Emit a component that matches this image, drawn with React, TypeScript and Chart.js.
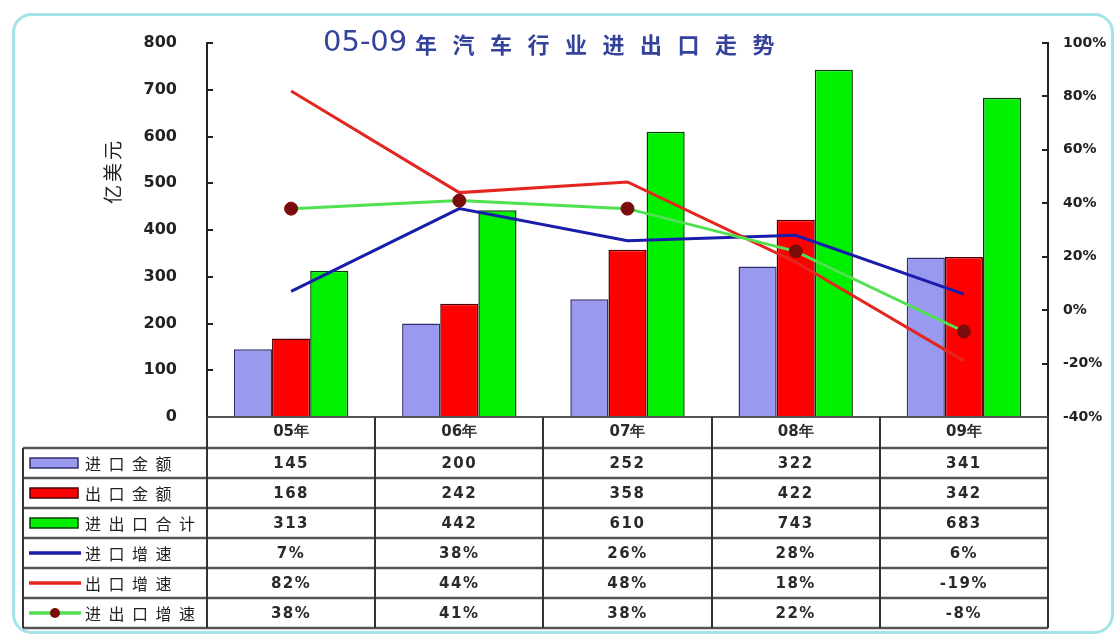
import React, { useEffect, useRef } from "react";
import { Chart, registerables } from "chart.js";

Chart.register(...registerables);

const title = "05-09年汽车行业进出口走势";
const yTitle = "亿美元";
const categories = ["05年", "06年", "07年", "08年", "09年"];

const importValue = [145, 200, 252, 322, 341];
const exportValue = [168, 242, 358, 422, 342];
const totalValue = [313, 442, 610, 743, 683];
const importGrowth = [7, 38, 26, 28, 6];
const exportGrowth = [82, 44, 48, 18, -19];
const totalGrowth = [38, 41, 38, 22, -8];

const seriesNames = ["进口金额", "出口金额", "进出口合计", "进口增速", "出口增速", "进出口增速"];

const leftMin = 0;
const leftMax = 800;
const leftStep = 100;
const rightMin = -40;
const rightMax = 100;
const rightStep = 20;

const C = {
  importBar: "#9999f0",
  importBarBorder: "#30306a",
  exportBar: "#ff0000",
  exportBarBorder: "#4a0000",
  totalBar: "#00f000",
  totalBarBorder: "#0a3a0a",
  importLine: "#1c1caa",
  exportLine: "#e3261f",
  totalLine: "#50e050",
  marker: "#7a0c0c",
};

type Row = {
  name: string;
  values: number[];
  kind: "bar" | "line" | "marker";
  color: string;
  border?: string;
  pct: boolean;
};

const rows: Row[] = [
  { name: seriesNames[0], values: importValue, kind: "bar", color: C.importBar, border: C.importBarBorder, pct: false },
  { name: seriesNames[1], values: exportValue, kind: "bar", color: C.exportBar, border: C.exportBarBorder, pct: false },
  { name: seriesNames[2], values: totalValue, kind: "bar", color: C.totalBar, border: C.totalBarBorder, pct: false },
  { name: seriesNames[3], values: importGrowth, kind: "line", color: C.importLine, pct: true },
  { name: seriesNames[4], values: exportGrowth, kind: "line", color: C.exportLine, pct: true },
  { name: seriesNames[5], values: totalGrowth, kind: "marker", color: C.totalLine, pct: true },
];

const NUM_FONT = "'DejaVu Sans', 'Liberation Sans', sans-serif";
const CJK_FONT = "'Noto Sans CJK SC', 'Noto Sans', sans-serif";

const framePlugin = {
  id: "frame",
  beforeDraw(chart: any) {
    const ctx: CanvasRenderingContext2D = chart.ctx;
    ctx.save();
    ctx.fillStyle = "#ffffff";
    ctx.fillRect(0, 0, chart.width, chart.height);
    ctx.beginPath();
    (ctx as any).roundRect(13.5, 14.5, 1099, 618, 18);
    ctx.strokeStyle = "#a4e3e6";
    ctx.lineWidth = 3;
    ctx.stroke();
    ctx.restore();
  },
};

const decorPlugin = {
  id: "decor",
  afterDraw(chart: any) {
    const ctx: CanvasRenderingContext2D = chart.ctx;
    const area = chart.chartArea;
    const xs = chart.scales.x;
    const yl = chart.scales.y;
    const yr = chart.scales.y1;
    ctx.save();

    // inward tick marks
    ctx.strokeStyle = "#222";
    ctx.lineWidth = 2;
    yl.ticks.forEach((t: any) => {
      const py = Math.round(yl.getPixelForValue(t.value));
      ctx.beginPath();
      ctx.moveTo(area.left, py);
      ctx.lineTo(area.left + 6, py);
      ctx.stroke();
    });
    yr.ticks.forEach((t: any) => {
      const py = Math.round(yr.getPixelForValue(t.value));
      ctx.beginPath();
      ctx.moveTo(area.right - 6, py);
      ctx.lineTo(area.right, py);
      ctx.stroke();
    });

    // title
    ctx.fillStyle = "#34429c";
    ctx.textBaseline = "middle";
    ctx.textAlign = "left";
    ctx.font = `29px ${NUM_FONT}`;
    ctx.fillText(title.slice(0, 5), 323, 43);
    ctx.font = `bold 22px ${CJK_FONT}`;
    (ctx as any).letterSpacing = "15.5px";
    ctx.fillText(title.slice(5), 415, 45);
    (ctx as any).letterSpacing = "0px";

    // y axis title
    ctx.save();
    ctx.translate(113, 171);
    ctx.rotate(-Math.PI / 2);
    ctx.fillStyle = "#222";
    ctx.textAlign = "center";
    ctx.font = `19px ${CJK_FONT}`;
    (ctx as any).letterSpacing = "3px";
    ctx.fillText(yTitle, 0, 0);
    (ctx as any).letterSpacing = "0px";
    ctx.restore();

    // data table
    const n = categories.length;
    const colW = (area.right - area.left) / n;
    const headerTop = area.bottom;
    const headerH = 31;
    const rowH = 30;
    const tableLeft = 23;
    const firstRowTop = headerTop + headerH;
    const bottom = firstRowTop + rowH * rows.length;

    rows.forEach((r, i) => {
      const cy = firstRowTop + rowH * i + rowH / 2;
      if (r.kind === "bar") {
        ctx.fillStyle = r.color;
        ctx.fillRect(30, cy - 5, 48, 10);
        ctx.strokeStyle = r.border || "#222";
        ctx.lineWidth = 1.5;
        ctx.strokeRect(30, cy - 5, 48, 10);
      } else {
        ctx.strokeStyle = r.color;
        ctx.lineWidth = 3.5;
        ctx.beginPath();
        ctx.moveTo(29, cy);
        ctx.lineTo(81, cy);
        ctx.stroke();
        if (r.kind === "marker") {
          ctx.fillStyle = C.marker;
          ctx.beginPath();
          ctx.arc(55, cy, 5, 0, Math.PI * 2);
          ctx.fill();
        }
      }
      ctx.fillStyle = "#222";
      ctx.textAlign = "left";
      ctx.textBaseline = "middle";
      ctx.font = `16px ${CJK_FONT}`;
      (ctx as any).letterSpacing = "7.5px";
      ctx.fillText(r.name, 85, cy + 1);
      (ctx as any).letterSpacing = "0px";
      ctx.font = `bold 15px ${NUM_FONT}`;
      ctx.textAlign = "center";
      ctx.fillStyle = "#2a2a2a";
      (ctx as any).letterSpacing = "1.5px";
      r.values.forEach((v, j) => {
        const cx = xs.getPixelForValue(j);
        ctx.fillText(r.pct ? `${v}%` : `${v}`, cx, cy + 1);
      });
      (ctx as any).letterSpacing = "0px";
    });

    // horizontal lines
    ctx.strokeStyle = "#555";
    ctx.lineWidth = 2.5;
    for (let i = 0; i <= rows.length; i++) {
      const y = firstRowTop + rowH * i;
      ctx.beginPath();
      ctx.moveTo(tableLeft, y);
      ctx.lineTo(area.right, y);
      ctx.stroke();
    }
    ctx.lineWidth = 2;
    ctx.beginPath();
    ctx.moveTo(area.left, headerTop);
    ctx.lineTo(area.right, headerTop);
    ctx.stroke();

    // vertical lines
    ctx.strokeStyle = "#333";
    ctx.beginPath();
    ctx.moveTo(tableLeft, firstRowTop);
    ctx.lineTo(tableLeft, bottom);
    ctx.stroke();
    for (let j = 0; j <= n; j++) {
      const x = Math.round(area.left + colW * j);
      ctx.beginPath();
      ctx.moveTo(x, headerTop);
      ctx.lineTo(x, bottom);
      ctx.stroke();
    }

    ctx.restore();
  },
};

export default function App() {
  const ref = useRef<HTMLCanvasElement>(null);

  useEffect(() => {
    const canvas = ref.current;
    if (!canvas) return;
    const barCommon = {
      type: "bar" as const,
      yAxisID: "y",
      borderWidth: 1.5,
      categoryPercentage: 0.68,
      barPercentage: 1.0,
      order: 10,
    };
    const chart = new Chart(canvas, {
      type: "bar",
      data: {
        labels: categories,
        datasets: [
          { ...barCommon, label: seriesNames[0], data: importValue, backgroundColor: C.importBar, borderColor: C.importBarBorder },
          { ...barCommon, label: seriesNames[1], data: exportValue, backgroundColor: C.exportBar, borderColor: C.exportBarBorder },
          { ...barCommon, label: seriesNames[2], data: totalValue, backgroundColor: C.totalBar, borderColor: C.totalBarBorder },
          {
            type: "line",
            label: seriesNames[3],
            data: importGrowth,
            yAxisID: "y1",
            borderColor: C.importLine,
            borderWidth: 3,
            pointRadius: 0,
            tension: 0,
            order: 3,
          },
          {
            type: "line",
            label: seriesNames[4],
            data: exportGrowth,
            yAxisID: "y1",
            borderColor: C.exportLine,
            borderWidth: 3,
            pointRadius: 0,
            tension: 0,
            order: 2,
          },
          {
            type: "line",
            label: seriesNames[5],
            data: totalGrowth,
            yAxisID: "y1",
            borderColor: C.totalLine,
            borderWidth: 3,
            pointRadius: 6.5,
            pointBackgroundColor: C.marker,
            pointBorderColor: C.marker,
            pointBorderWidth: 1,
            tension: 0,
            order: 1,
          },
        ] as any,
      },
      options: {
        responsive: false,
        animation: false,
        layout: { padding: { left: 0, right: 0, top: 43, bottom: 188 } },
        plugins: {
          legend: { display: false },
          title: { display: false },
          tooltip: { enabled: false },
        },
        scales: {
          x: {
            offset: true,
            grid: { display: false, drawTicks: false },
            border: { display: true, color: "#333", width: 2 },
            ticks: {
              padding: 6,
              color: "#2a2a2a",
              font: { family: NUM_FONT, size: 15, weight: "bold" },
              maxRotation: 0,
            },
            afterFit: (s: any) => {
              s.height = 31;
            },
          },
          y: {
            position: "left",
            min: leftMin,
            max: leftMax,
            grid: { display: false, drawTicks: false },
            border: { display: true, color: "#222", width: 2 },
            ticks: {
              stepSize: leftStep,
              padding: 30,
              color: "#222",
              font: { family: NUM_FONT, size: 16, weight: "bold" },
            },
            afterFit: (s: any) => {
              s.width = 207;
            },
          },
          y1: {
            position: "right",
            min: rightMin,
            max: rightMax,
            grid: { display: false, drawTicks: false },
            border: { display: true, color: "#222", width: 2 },
            ticks: {
              stepSize: rightStep,
              padding: 15,
              color: "#222",
              font: { family: NUM_FONT, size: 14, weight: "bold" },
              callback: (v: any) => `${v}%`,
            },
            afterFit: (s: any) => {
              s.width = 68;
            },
          },
        },
      } as any,
      plugins: [framePlugin, decorPlugin],
    });
    return () => chart.destroy();
  }, []);

  return (
    <div style={{ position: "fixed", left: 0, top: 0, width: 1116, height: 636, background: "#fff" }}>
      <canvas ref={ref} width={1116} height={636} style={{ display: "block", width: 1116, height: 636 }} />
    </div>
  );
}
